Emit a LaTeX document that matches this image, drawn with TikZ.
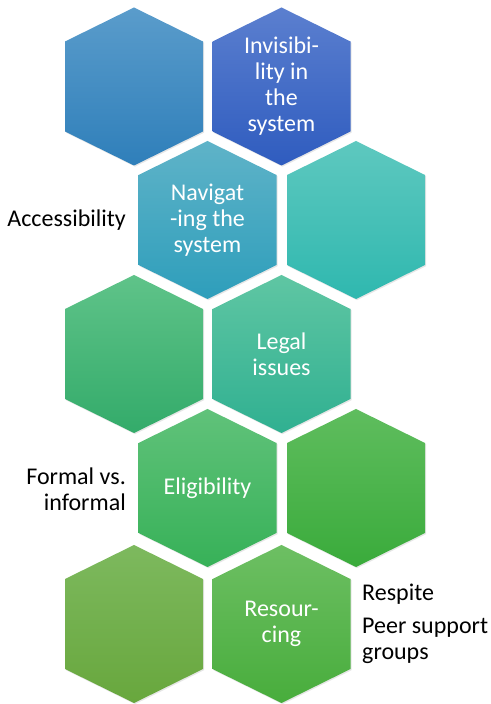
\documentclass[tikz,border=0pt]{standalone}
\usepackage{fontspec}
\setmainfont{Carlito}
\usetikzlibrary{shadows}

\definecolor{blueAt}{HTML}{5A9CCB}
\definecolor{blueAb}{HTML}{2F7FBA}
\definecolor{blueBt}{HTML}{5B7FCF}
\definecolor{blueBb}{HTML}{2F5CBF}
\definecolor{tealAt}{HTML}{5FB3C8}
\definecolor{tealAb}{HTML}{2E9EBB}
\definecolor{tealBt}{HTML}{5EC8BF}
\definecolor{tealBb}{HTML}{2FB8AF}
\definecolor{jadeAt}{HTML}{5FC389}
\definecolor{jadeAb}{HTML}{33AB6A}
\definecolor{jadeBt}{HTML}{5FC6A3}
\definecolor{jadeBb}{HTML}{30B091}
\definecolor{greenAt}{HTML}{60C27A}
\definecolor{greenAb}{HTML}{37B158}
\definecolor{greenBt}{HTML}{5FBD5E}
\definecolor{greenBb}{HTML}{3AAB3B}
\definecolor{limeAt}{HTML}{7DB95E}
\definecolor{limeAb}{HTML}{68A73D}
\definecolor{limeBt}{HTML}{6DBF63}
\definecolor{limeBb}{HTML}{48AD3C}

% hexagon: name, x, y, top colour, bottom colour, text
\newcommand\hexcell[6]{%
  \shade[hexfill, top color=#4, bottom color=#5, shift={(#2,#3)}]
    (0,79) -- (69,45) -- (69,-45) -- (0,-79) -- (-69,-45) -- (-69,45) -- cycle;
  \node[hextext] (#1) at (#2,#3) {#6};}

\begin{document}
\begin{tikzpicture}[x=1pt,y=1pt]
\tikzstyle{hexfill}=[drop shadow={opacity=.2,shadow xshift=1pt,shadow yshift=-1.2pt}]
\tikzstyle{hextext}=[text=white, align=center, inner sep=0pt, font=\fontsize{24}{26}\selectfont]
\tikzstyle{sidetext}=[text=black, inner sep=0pt, font=\fontsize{24}{26}\selectfont]
\useasboundingbox (0,0) rectangle (490,704);

\hexcell{h1}{134}{617.5}{blueAt}{blueAb}{}
\hexcell{invis}{281.5}{617.5}{blueBt}{blueBb}{Invisibi-\\lity in\\the\\system}
\hexcell{navig}{207.5}{484}{tealAt}{tealAb}{Navigat\\-ing the\\system}
\hexcell{h4}{356}{484}{tealBt}{tealBb}{}
\hexcell{h5}{134}{350}{jadeAt}{jadeAb}{}
\hexcell{legal}{281.5}{350}{jadeBt}{jadeBb}{Legal\\issues}
\hexcell{elig}{207.5}{216}{greenAt}{greenAb}{Eligibility}
\hexcell{h8}{356}{216}{greenBt}{greenBb}{}
\hexcell{h9}{134}{80}{limeAt}{limeAb}{}
\hexcell{resour}{281.5}{80}{limeBt}{limeBb}{Resour-\\cing}

\node[sidetext, anchor=east] (access) at (126,484) {Accessibility};
\node[sidetext, anchor=east, align=right] (formal) at (126,215) {Formal vs.\\informal};
\node[sidetext, anchor=west, align=left] (respite) at (362,80) {Respite\\[7pt]Peer support\\groups};
\end{tikzpicture}
\end{document}
